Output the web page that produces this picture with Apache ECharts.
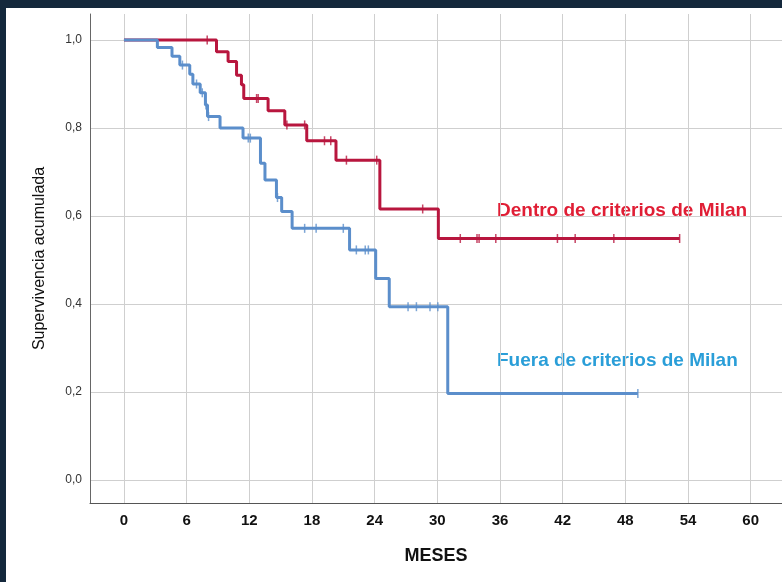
<!DOCTYPE html>
<html>
<head>
<meta charset="utf-8">
<script src="https://cdn.jsdelivr.net/npm/echarts@6/dist/echarts.min.js"></script>
<style>
  html, body { margin: 0; padding: 0; background: #14283c; }
  #chart { position: absolute; left: 6px; top: 8px; width: 776px; height: 574px; background: #fff; }
</style>
</head>
<body>
<div id="chart"></div>
<script>
// Kaplan-Meier, tiempos en meses
var monthTicks = [0, 6, 12, 18, 24, 30, 36, 42, 48, 54, 60];
var survTicks = [0, 0.2, 0.4, 0.6, 0.8, 1.0];

var dentroTimes = [0, 8.86, 9.97, 10.78, 11.25, 11.47, 13.8, 15.4, 17.5, 20.3, 24.5, 30.1, 53.2];
var dentroSurv = [1.0, 0.973, 0.951, 0.920, 0.898, 0.867, 0.839, 0.807, 0.771, 0.727, 0.616, 0.549, 0.549];
var dentroCensored = [7.97, 12.7, 12.85, 15.6, 17.3, 19.2, 19.8, 21.3, 24.2, 28.6, 32.2, 33.8, 34.0, 35.6, 41.5, 43.2, 46.9, 53.2];

var fueraTimes = [0, 3.2, 4.6, 5.35, 6.3, 6.6, 7.3, 7.8, 8.0, 9.2, 11.4, 13.07, 13.5, 14.6, 15.1, 16.1, 21.6, 24.1, 25.4, 31.0, 49.2];
var fueraSurv = [1.0, 0.983, 0.963, 0.943, 0.922, 0.900, 0.880, 0.852, 0.826, 0.800, 0.777, 0.72, 0.682, 0.642, 0.610, 0.572, 0.523, 0.458, 0.394, 0.197, 0.197];
var fueraCensored = [5.6, 6.95, 7.5, 7.85, 8.1, 11.9, 12.1, 14.7, 17.3, 18.4, 21.0, 22.25, 23.1, 23.4, 27.2, 28.0, 29.3, 30.05, 49.2];

function curve(times, surv) {
  var out = [];
  for (var i = 0; i < times.length; i++) out.push([times[i], surv[i]]);
  return out;
}
function survAt(times, surv, t) {
  var s = surv[0];
  for (var i = 0; i < times.length; i++) { if (times[i] <= t) s = surv[i]; }
  return s;
}
function censorPoints(times, surv, cens) {
  var out = [];
  for (var i = 0; i < cens.length; i++) out.push([cens[i], survAt(times, surv, cens[i])]);
  return out;
}

var redLine = '#b8163e', blueLine = '#5b8ecb';
var font = 'Liberation Sans, Arial, sans-serif';
var narrow = 'Liberation Sans Narrow, Arial Narrow, Liberation Sans, Arial';

var option = {
  animation: false,
  grid: { left: 84, top: 6, right: 0, bottom: 79 },
  xAxis: {
    type: 'value', min: -3.25, max: 63,
    name: 'MESES', nameLocation: 'middle', nameGap: 44,
    nameTextStyle: { fontFamily: narrow, fontWeight: 'bold', fontSize: 18, color: '#111' },
    axisLine: { onZero: false, lineStyle: { color: '#555', width: 1 } },
    axisTick: { show: false, customValues: monthTicks },
    axisLabel: { customValues: monthTicks, margin: 10, color: '#111', fontWeight: 'bold', fontSize: 15,
      fontFamily: narrow },
    splitLine: { show: true, lineStyle: { color: '#cfcfcf', width: 1 } }
  },
  yAxis: {
    type: 'value', min: -0.052, max: 1.059,
    name: 'Supervivencia acumulada', nameLocation: 'middle', nameGap: 42, nameRotate: 90,
    nameTextStyle: { fontFamily: font, fontSize: 16, color: '#111' },
    axisLine: { show: true, onZero: false, lineStyle: { color: '#666', width: 1 } },
    axisTick: { show: false, customValues: survTicks },
    axisLabel: { customValues: survTicks, margin: 8, color: '#333', fontSize: 12, fontFamily: font,
      formatter: function (v) { return v.toFixed(1).replace('.', ','); } },
    splitLine: { show: true, lineStyle: { color: '#cfcfcf', width: 1 } }
  },
  series: [
    { type: 'line', step: 'end', data: curve(dentroTimes, dentroSurv), showSymbol: false,
      lineStyle: { color: redLine, width: 3 }, z: 3 },
    { type: 'line', step: 'end', data: curve(fueraTimes, fueraSurv), showSymbol: false,
      lineStyle: { color: blueLine, width: 3 }, z: 3 },
    { type: 'scatter', data: censorPoints(dentroTimes, dentroSurv, dentroCensored), symbol: 'rect',
      symbolSize: [1.5, 9], itemStyle: { color: redLine }, z: 4 },
    { type: 'scatter', data: censorPoints(fueraTimes, fueraSurv, fueraCensored), symbol: 'rect',
      symbolSize: [1.5, 9], itemStyle: { color: blueLine }, z: 4 }
  ],
  graphic: [
    { type: 'text', left: 491, top: 193, style: { text: 'Dentro de criterios de Milan', fill: '#e01e35',
      font: 'bold 19px ' + font } },
    { type: 'text', left: 491, top: 343, style: { text: 'Fuera de criterios de Milan', fill: '#2a9ed8',
      font: 'bold 19px ' + font } }
  ]
};

var mychart = echarts.init(document.getElementById('chart'));
mychart.setOption(option);
</script>
</body>
</html>
